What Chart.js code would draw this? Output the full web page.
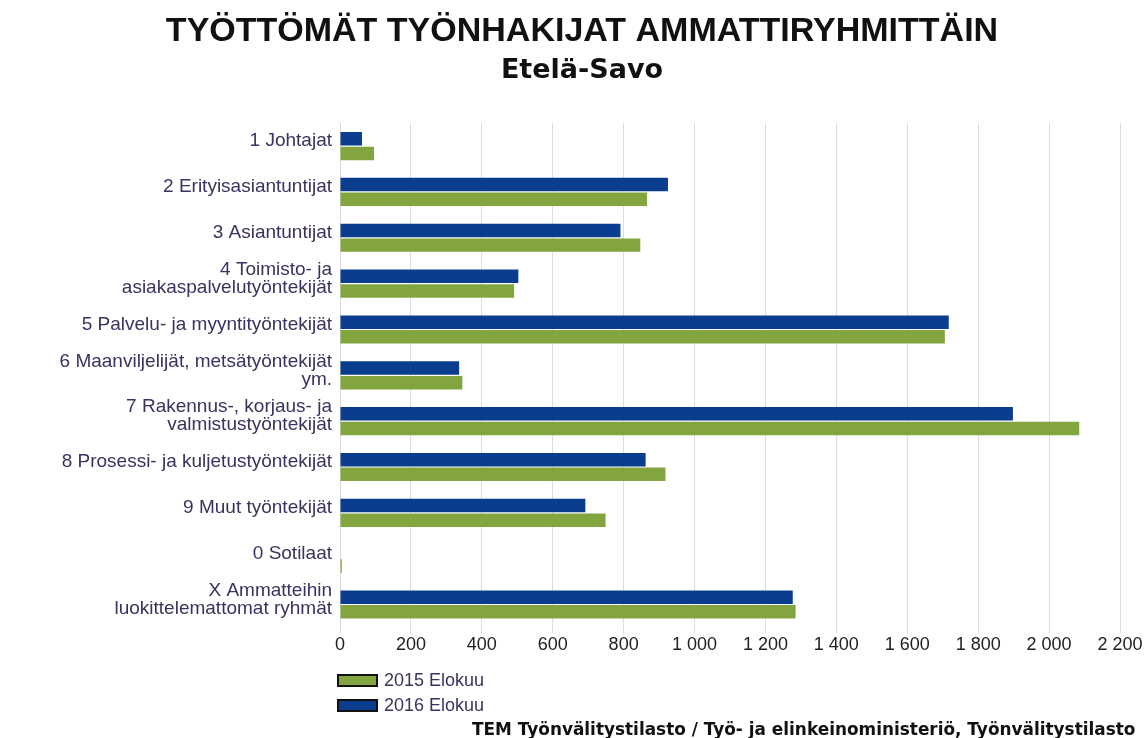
<!DOCTYPE html>
<html>
<head>
<meta charset="utf-8">
<script src="https://cdn.jsdelivr.net/npm/chart.js@4/dist/chart.umd.min.js"></script>
<style>
  html, body { margin: 0; padding: 0; background: #fff; }
  #wrap { position: relative; width: 1148px; height: 738px; overflow: hidden; }
  #legend { position: absolute; left: 337px; top: 668px; font-family: 'Liberation Sans', Arial, sans-serif; font-size: 18px; color: #3a3260; }
  #legend div { height: 25px; display: flex; align-items: center; }
  #legend span.box { display: inline-block; width: 37px; height: 9px; border: 2px solid #111; margin-right: 6px; }
  #source { position: absolute; left: 472px; top: 719px; font-family: 'DejaVu Sans', sans-serif; font-weight: bold; font-size: 16.9px; color: #111; white-space: nowrap; }
</style>
</head>
<body>
<div id="wrap">
  <canvas id="myChart" width="1148" height="738"></canvas>
  <div id="legend"></div>
  <div id="source">TEM Työnvälitystilasto / Työ- ja elinkeinoministeriö, Työnvälitystilasto</div>
</div>
<script>
'use strict';

const categories = [
  '1 Johtajat',
  '2 Erityisasiantuntijat',
  '3 Asiantuntijat',
  ['4 Toimisto- ja', 'asiakaspalvelutyöntekijät'],
  '5 Palvelu- ja myyntityöntekijät',
  ['6 Maanviljelijät, metsätyöntekijät', 'ym.'],
  ['7 Rakennus-, korjaus- ja', 'valmistustyöntekijät'],
  '8 Prosessi- ja kuljetustyöntekijät',
  '9 Muut työntekijät',
  '0 Sotilaat',
  ['X Ammatteihin', 'luokittelemattomat ryhmät']
];

const values2016 = [62, 925, 791, 503, 1717, 336, 1898, 862, 692, 0, 1277];
const values2015 = [96, 866, 847, 491, 1706, 345, 2085, 918, 749, 5, 1285];

const seriesLabels = ['2016 Elokuu', '2015 Elokuu'];
const blue = '#0b3d8e',
  green = '#83a540',
  labelColor = '#3a3260';

const fmt = v => String(v).replace(/\B(?=(\d{3})+(?!\d))/g, ' ');

const padLeft = 44; // keeps the titles centred where the original has them

const ctx = document.getElementById('myChart').getContext('2d');

const chart = new Chart(ctx, {
  type: 'bar',
  data: {
    labels: categories,
    datasets: [{
      label: seriesLabels[0],
      data: values2016,
      backgroundColor: blue,
      categoryPercentage: 0.64,
      barPercentage: 0.92
    }, {
      label: seriesLabels[1],
      data: values2015,
      backgroundColor: green,
      categoryPercentage: 0.64,
      barPercentage: 0.92
    }]
  },
  options: {
    indexAxis: 'y',
    responsive: false,
    animation: false,
    layout: { padding: { left: padLeft, right: 28, top: 0, bottom: 81 } },
    plugins: {
      legend: { display: false },
      tooltip: { enabled: false },
      title: {
        display: true,
        text: 'TYÖTTÖMÄT TYÖNHAKIJAT AMMATTIRYHMITTÄIN',
        color: '#111',
        font: { family: "'Liberation Sans', Arial, sans-serif", size: 34, weight: 'bold' },
        padding: { top: 11, bottom: 3 }
      },
      subtitle: {
        display: true,
        text: 'Etelä-Savo',
        color: '#111',
        font: { family: "'DejaVu Sans', sans-serif", size: 27, weight: 'bold' },
        padding: { top: 0, bottom: 36 }
      }
    },
    scales: {
      x: {
        min: 0,
        max: 2200,
        ticks: {
          stepSize: 200,
          color: '#222',
          font: { family: "'Liberation Sans', Arial, sans-serif", size: 18 },
          padding: 1,
          callback: v => fmt(v)
        },
        grid: { color: '#dcdde2', lineWidth: 1, tickLength: 6 },
        border: { display: false }
      },
      y: {
        afterFit: s => { s.width = 340 - padLeft; },
        ticks: {
          color: labelColor,
          font: { family: "'Liberation Sans', Arial, sans-serif", size: 19, lineHeight: 0.95 },
          padding: 0,
          labelOffset: -5
        },
        grid: { display: false },
        border: { display: true, color: '#d8d8dc' }
      }
    }
  }
});

// legend below the axis: 2015 first, like the original
const legend = document.querySelector('#legend');
[1, 0].forEach(i => {
  const ds = chart.data.datasets[i];
  legend.innerHTML += `<div><span class="box" style="background:${ds.backgroundColor}"></span>${ds.label}</div>`;
});
</script>
</body>
</html>
